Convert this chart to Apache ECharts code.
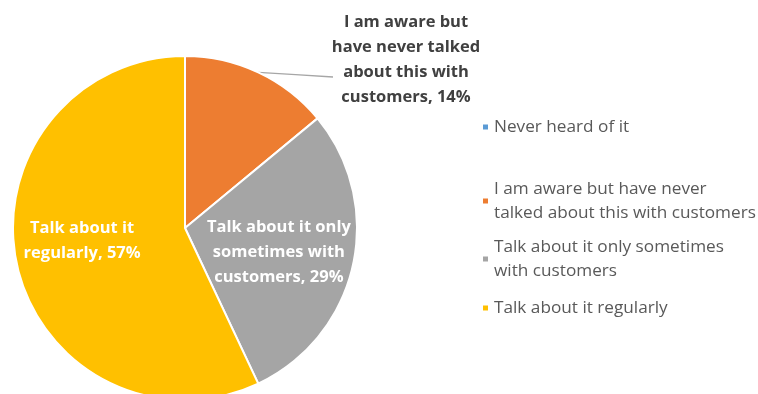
<!DOCTYPE html>
<html>
<head>
<meta charset="utf-8">
<script src="https://cdn.jsdelivr.net/npm/echarts@6/dist/echarts.min.js"></script>
<style>
  html, body { margin: 0; padding: 0; background: #fff; }
  #chart { width: 758px; height: 394px; }
</style>
</head>
<body>
<div id="chart"></div>
<script>
// Survey answers and their shares (percent)
const categories = [
  'Never heard of it',
  'I am aware but have never talked about this with customers',
  'Talk about it only sometimes with customers',
  'Talk about it regularly'
];
const shares = [0, 14, 29, 57];
const colors = ['#5B9BD5', '#ED7D31', '#A5A5A5', '#FFC000'];

// Wrapped slice labels and legend texts
const sliceLabels = [
  '',
  'I am aware but\nhave never talked\nabout this with\ncustomers',
  'Talk about it only\nsometimes with\ncustomers',
  'Talk about it\nregularly'
];
const legendTexts = [
  'Never heard of it',
  'I am aware but have never\ntalked about this with customers',
  'Talk about it only sometimes\nwith customers',
  'Talk about it regularly'
];
const legendTops = [110, 172, 230, 291];

const FONT = '"Open Sans", Lato, sans-serif';

const data = categories.map((name, i) => {
  const item = { name, value: shares[i], itemStyle: { color: colors[i] } };
  if (shares[i] === 0) {
    item.label = { show: false };
    item.labelLine = { show: false };
  } else if (i === 1) {
    item.label = { position: 'outside', color: '#404040' };
    item.labelLine = { show: true, length: 10, length2: 10, smooth: false, lineStyle: { color: '#A6A6A6', width: 1.3 } };
  } else {
    item.label = { position: 'inside', color: '#ffffff' };
  }
  return item;
});

const legends = categories.map((name, i) => ({
  data: [name],
  left: 476,
  top: legendTops[i],
  orient: 'vertical',
  icon: 'rect',
  itemWidth: 7,
  itemHeight: 7,
  itemGap: 0,
  selectedMode: false,
  formatter: () => legendTexts[i],
  textStyle: { fontFamily: FONT, fontSize: 17.2, color: '#595959', lineHeight: 24 }
}));

const chart = echarts.init(document.getElementById('chart'), null, { renderer: 'canvas' });
chart.setOption({
  animation: false,
  backgroundColor: '#ffffff',
  legend: legends,
  series: [{
    type: 'pie',
    center: [185, 228],
    radius: 172,
    startAngle: 90,
    clockwise: true,
    data,
    itemStyle: { borderColor: '#ffffff', borderWidth: 2 },
    label: {
      show: true,
      fontFamily: FONT,
      fontSize: 16.5,
      fontWeight: 'bold',
      lineHeight: 25,
      align: 'center',
      formatter: p => sliceLabels[p.dataIndex] + ', ' + p.value + '%'
    },
    labelLayout: p => {
      if (p.dataIndex === 1) {
        const start = p.labelLinePoints ? p.labelLinePoints[0] : null;
        const out = { x: 406, y: 60, align: 'center', verticalAlign: 'middle' };
        if (start) {
          const end = [333, 77];
          out.labelLinePoints = [start, [(start[0] + end[0]) / 2, (start[1] + end[1]) / 2], end];
        }
        return out;
      }
      if (p.dataIndex === 2) return { dx: 7, dy: 5 };
      if (p.dataIndex === 3) return { dx: -16, dy: -7 };
      return {};
    }
  }]
});
</script>
</body>
</html>
